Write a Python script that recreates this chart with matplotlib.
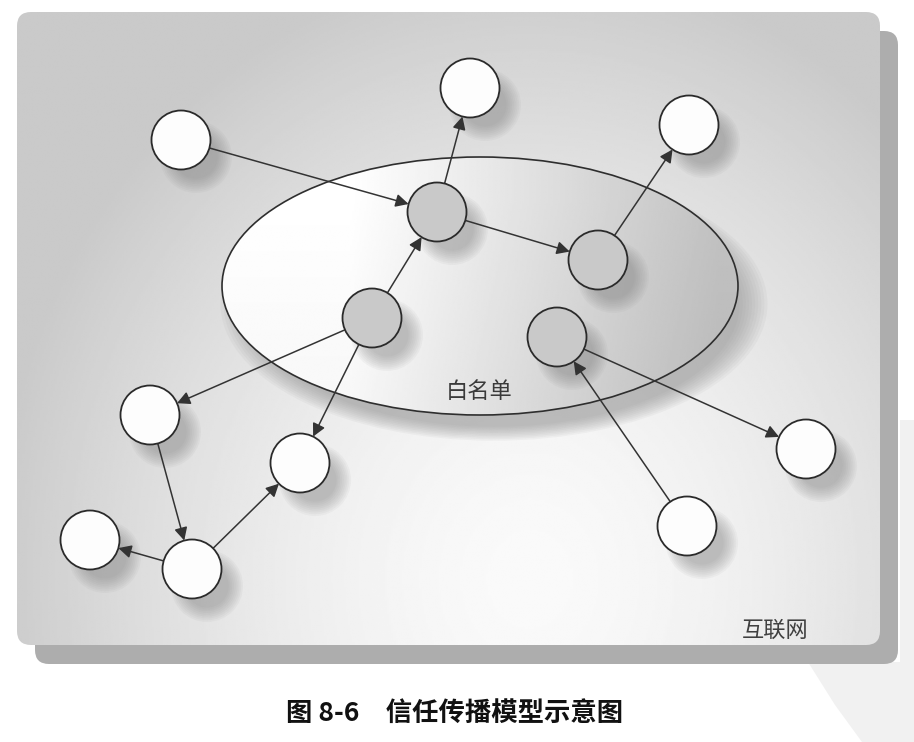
import numpy as np
import matplotlib
matplotlib.use("Agg")
import matplotlib.pyplot as plt
from matplotlib.patches import FancyBboxPatch, Ellipse, Circle, FancyArrowPatch, Polygon

plt.rcParams['font.family'] = ['Noto Sans CJK SC', 'DejaVu Sans']

# ---- data ----
node_x = [470, 181, 689, 437, 598, 372, 557, 150, 300, 806, 90, 192, 687]
node_y = [88, 140, 125, 212, 260, 318, 337, 415, 463, 449, 540, 569, 526]
node_kind = ['out', 'out', 'out', 'in', 'in', 'in', 'in',
             'out', 'out', 'out', 'out', 'out', 'out']
edge_src = [1, 3, 3, 4, 5, 5, 5, 6, 12, 7, 11, 11]
edge_dst = [3, 0, 4, 2, 3, 7, 8, 9, 6, 11, 10, 8]
whitelist_label = "白名单"
internet_label = "互联网"
caption = "图 8-6\u3000信任传播模型示意图"

W, H = 914, 742
fig = plt.figure(figsize=(W / 100, H / 100), dpi=100)
ax = fig.add_axes([0, 0, 1, 1])
ax.set_xlim(0, W)
ax.set_ylim(H, 0)
ax.axis('off')
fig.patch.set_facecolor('white')

# faint watermark at the bottom right
ax.add_patch(Polygon([(808, 662), (835, 705), (862, 742), (914, 742), (914, 420), (900, 420), (900, 662)],
                     closed=True, facecolor='#f1f1f1', edgecolor='none', zorder=0))

# panel shadow
px0, py0, pw, ph = 17, 12, 863, 633
ax.add_patch(FancyBboxPatch((px0 + 18, py0 + 19), pw, ph,
                            boxstyle="round,pad=0,rounding_size=14",
                            facecolor='#adadad', edgecolor='none', zorder=1))

# panel with radial gradient
panel = FancyBboxPatch((px0, py0), pw, ph, boxstyle="round,pad=0,rounding_size=14",
                       facecolor='none', edgecolor='none', zorder=2)
ax.add_patch(panel)
gx = np.linspace(px0, px0 + pw, 400)
gy = np.linspace(py0, py0 + ph, 300)
GX, GY = np.meshgrid(gx, gy)
d = np.sqrt(((GX - 530) / 540) ** 2 + ((GY - 580) / 620) ** 2)
val = 0.98 - 0.19 * np.clip(d, 0, 1) ** 1.6
im = ax.imshow(val, cmap='gray', vmin=0, vmax=1, extent=(px0, px0 + pw, py0 + ph, py0),
               origin='upper', zorder=2, interpolation='bilinear', aspect='auto')
im.set_clip_path(panel)

# whitelist ellipse shadow
ecx, ecy, ew, eh = 480, 286, 516, 258
for k in range(10):
    s = 1.06 - k * 0.012
    ax.add_patch(Ellipse((ecx + 14, ecy + 18), ew * s, eh * s, facecolor='#8a8a8a',
                         edgecolor='none', alpha=0.07, zorder=3))

# whitelist ellipse with linear gradient
ell_clip = Ellipse((ecx, ecy), ew, eh, facecolor='none', edgecolor='none', zorder=4)
ax.add_patch(ell_clip)
ex = np.linspace(ecx - ew / 2, ecx + ew / 2, 300)
ey = np.linspace(ecy - eh / 2, ecy + eh / 2, 150)
EX, EY = np.meshgrid(ex, ey)
ev = 1.0 - 0.24 * np.clip((EX - 350) / 370, 0, 1) - 0.03 * np.clip((EY - 200) / 200, 0, 1)
im2 = ax.imshow(ev, cmap='gray', vmin=0, vmax=1,
                extent=(ecx - ew / 2, ecx + ew / 2, ecy + eh / 2, ecy - eh / 2),
                origin='upper', zorder=4, interpolation='bilinear', aspect='auto')
im2.set_clip_path(ell_clip)
ax.add_patch(Ellipse((ecx, ecy), ew, eh, facecolor='none', edgecolor='#2e2e2e',
                     linewidth=1.2, zorder=5))

R = 29.5
# node shadows
for x, y in zip(node_x, node_y):
    for k in range(9):
        ax.add_patch(Circle((x + 15, y + 17), 36 - k * 1.8, facecolor='#7a7a7a',
                            edgecolor='none', alpha=0.06, zorder=6))

# edges
for s, t in zip(edge_src, edge_dst):
    x0, y0 = node_x[s], node_y[s]
    x1, y1 = node_x[t], node_y[t]
    L = np.hypot(x1 - x0, y1 - y0)
    ux, uy = (x1 - x0) / L, (y1 - y0) / L
    a = FancyArrowPatch((x0 + ux * R, y0 + uy * R), (x1 - ux * R, y1 - uy * R),
                        arrowstyle='-|>,head_length=0.55,head_width=0.28',
                        mutation_scale=14, shrinkA=0, shrinkB=0,
                        color='#333333', linewidth=1.1, zorder=7)
    ax.add_patch(a)

# nodes
for x, y, kind in zip(node_x, node_y, node_kind):
    fc = '#c9c9c9' if kind == 'in' else '#fdfdfd'
    ax.add_patch(Circle((x, y), R, facecolor=fc, edgecolor='#2a2a2a',
                        linewidth=1.3, zorder=8))

# labels
ax.text(479, 392, whitelist_label, fontsize=16, color='#3a3a3a',
        ha='center', va='center', zorder=9)
ax.text(775, 630, internet_label, fontsize=16, color='#404040',
        ha='center', va='center', zorder=9)
ax.text(455, 713, caption, fontsize=19, fontweight='bold', color='#111111',
        ha='center', va='center', zorder=9)

fig.savefig('out.png', dpi=100, facecolor='white')
